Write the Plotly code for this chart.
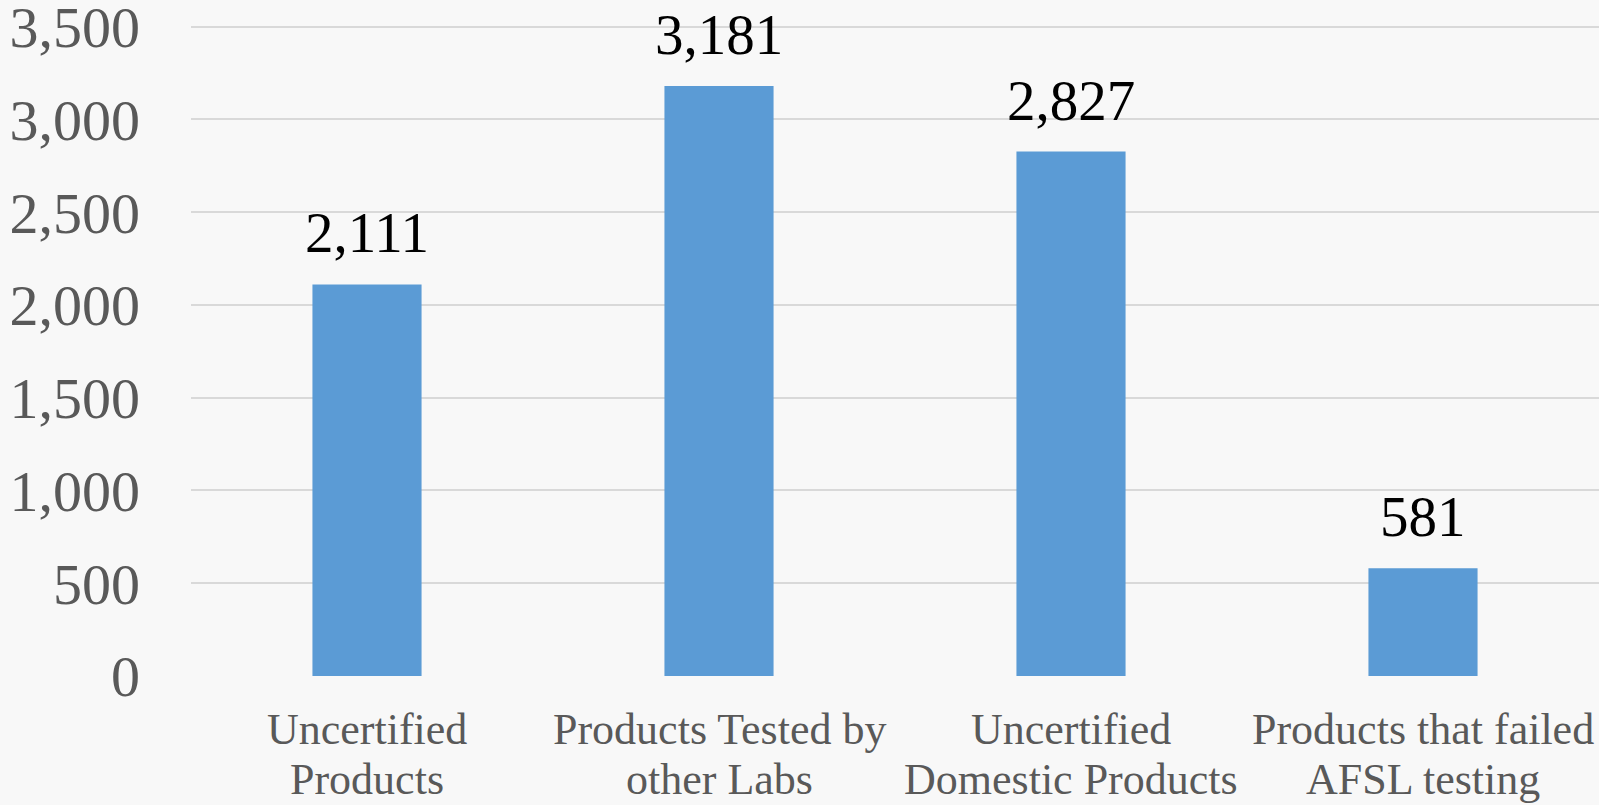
import plotly.graph_objects as go

categories = ["Uncertified<br>Products", "Products Tested by<br>other Labs",
              "Uncertified<br>Domestic Products", "Products that failed<br>AFSL testing"]
values = [2111, 3181, 2827, 581]
y_ticks = [0, 500, 1000, 1500, 2000, 2500, 3000, 3500]

FONT = "Liberation Serif, Times New Roman, serif"
GRAY = "#595959"
BG = "#f8f8f8"

x_idx = list(range(len(categories)))

fig = go.Figure()
fig.add_trace(go.Bar(
    x=x_idx, y=values, marker=dict(color="#5b9bd5", line=dict(width=0)),
    width=0.31, showlegend=False, hoverinfo="skip",
))

annotations = []
# data labels
for xi, v in zip(x_idx, values):
    annotations.append(dict(
        x=xi, y=v, xref="x", yref="y", text=f"{v:,}", showarrow=False,
        yanchor="bottom", yshift=18, font=dict(family=FONT, size=57, color="#000000"),
    ))
# category labels, one annotation per line for tighter line spacing
for xi, lab in zip(x_idx, categories):
    for li, line in enumerate(lab.split("<br>")):
        annotations.append(dict(
            x=xi, y=0, xref="x", yref="paper", text=line, showarrow=False,
            yanchor="top", yshift=-27 - 50 * li,
            font=dict(family=FONT, size=44, color=GRAY),
        ))

fig.update_layout(
    width=1599, height=805,
    margin=dict(l=191, r=0, t=0, b=129, pad=0),
    paper_bgcolor=BG, plot_bgcolor=BG,
    annotations=annotations,
    xaxis=dict(range=[-0.5, 3.5], showticklabels=False, showgrid=False,
               zeroline=False, showline=False, fixedrange=True, automargin=False),
    yaxis=dict(range=[0, 3644], tickvals=y_ticks,
               ticktext=[f"{t:,}" for t in y_ticks],
               tickfont=dict(family=FONT, size=58, color=GRAY),
               ticklabeloverflow="allow",
               showgrid=True, gridcolor="#d9d9d9", gridwidth=2,
               zeroline=False, showline=False, ticks="",
               ticklabelstandoff=50, fixedrange=True, automargin=False),
)

fig.write_html("out.html")
